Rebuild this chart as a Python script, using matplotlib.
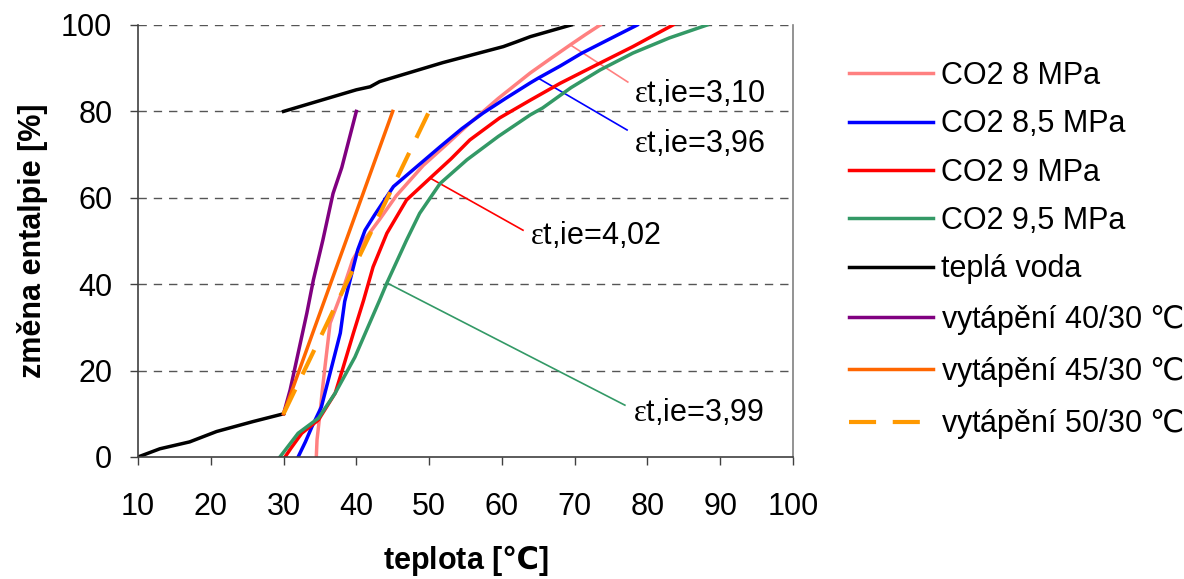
import numpy as np
import matplotlib
matplotlib.use("Agg")
import matplotlib.pyplot as plt

plt.rcParams["font.family"] = ["Liberation Sans", "DejaVu Sans"]
plt.rcParams["mathtext.fontset"] = "custom"
plt.rcParams["mathtext.rm"] = "Liberation Serif"
plt.rcParams["mathtext.sf"] = "Noto Sans CJK SC"
plt.rcParams["mathtext.bf"] = "Noto Sans CJK SC:bold"

DEG = r"$\mathsf{℃}$"
DEG_BOLD = r"$\mathbf{℃}$"

# CO2 cooling curves (temperature [C] vs. enthalpy change [%])
co2_8_t = [34.5, 34.6, 35.0, 35.3, 35.7, 36.4, 37.3, 38.2, 39.5, 41.0, 43.2, 45.5,
           49.2, 52.5, 55.6, 59.5, 63.9, 66.5, 69.4, 71.5, 73.5]
co2_8_h = [0, 4, 10, 15, 21, 31, 35, 39, 45.6, 50, 55, 60.5,
           67.5, 72.5, 77.3, 83, 88.9, 92, 95.4, 97.8, 100]

co2_85_t = [32.0, 33.0, 33.9, 35.2, 36.6, 37.8, 38.4, 39.3, 40.2, 41.2, 42.5, 45.1,
            48.3, 51.5, 54.5, 57.4, 60.5, 63.9, 65.0, 68.0, 71.0, 74.5, 78.6]
co2_85_h = [0, 3.5, 7, 11.6, 20.8, 28.7, 36, 42, 48, 52.5, 56, 62.6,
            67.2, 71.8, 76, 79.6, 83, 86.6, 87.7, 90.5, 93.5, 96.5, 100]

co2_9_t = [30.2, 31.0, 32.5, 34.8, 37.1, 38.2, 39.6, 41.0, 42.3, 44.2, 46.9, 50.1,
           53.0, 55.6, 59.7, 63.9, 68.0, 73.5, 78.0, 83.5]
co2_9_h = [0, 2, 5.5, 8.6, 14.8, 20.8, 28.7, 36.3, 44, 51.8, 59.5, 64.5,
           69, 73.4, 78.5, 82.6, 86.5, 91.2, 95, 100]

co2_95_t = [29.5, 32.0, 34.8, 37.1, 39.8, 41.6, 43.2, 44.2, 46.9, 48.7, 51.5, 55.2,
            59.5, 63.9, 65.6, 69.5, 73.5, 78.0, 83.0, 88.2]
co2_95_h = [0, 5.5, 9, 14.8, 23.1, 30.1, 36.3, 40.3, 50.2, 56.4, 63.3, 68.8,
            74.2, 79.2, 80.8, 85.5, 89.6, 93.5, 97, 100]

# hot water: preheat part, then the heating part (gap between them)
water_t = [10, 13, 17.1, 20.8, 25.8, 30, np.nan,
           30, 35, 40, 41.9, 43.2, 51.9, 60.2, 62, 63.9, 69.5]
water_h = [0, 1.9, 3.5, 5.9, 8.2, 10, np.nan,
           80, 82.5, 85, 85.7, 86.9, 91.3, 95, 96.1, 97.3, 100]

heat_40_t = [30, 30.9, 33.2, 34.1, 35.4, 36.8, 38.0, 40.0]
heat_40_h = [10, 15.5, 33.3, 41, 50.2, 61, 67, 80]

heat_45_t = [30, 37.5, 45]
heat_45_h = [10, 45, 80]

heat_50_t = [30, 50]
heat_50_h = [10, 80]

# exergy efficiency labels: point on curve, end of leader, text anchor
eps_labels = ["3,10", "3,96", "4,02", "3,99"]
eps_colors = ["#FF8080", "#0000FF", "#FF0000", "#339966"]
eps_curve_pts = [(69.4, 95.4), (65.0, 87.7), (50.1, 64.6), (44.2, 40.3)]
eps_leader_ends = [(77.3, 86.8), (77.2, 75.7), (62.9, 52.5), (76.9, 12.0)]
eps_text_pos = [(78.2, 84.2), (78.2, 72.6), (63.8, 51.3), (78.0, 10.2)]

fig = plt.figure(figsize=(11.84, 5.79), dpi=100)
ax = fig.add_axes([138 / 1184, 1 - 457 / 579, (793 - 138) / 1184, (457 - 25) / 579])

lw = 2.5
ax.plot(co2_8_t, co2_8_h, color="#FF8080", lw=lw, label="CO2 8 MPa")
ax.plot(co2_85_t, co2_85_h, color="#0000FF", lw=lw, label="CO2 8,5 MPa")
ax.plot(co2_9_t, co2_9_h, color="#FF0000", lw=lw, label="CO2 9 MPa")
ax.plot(co2_95_t, co2_95_h, color="#339966", lw=lw, label="CO2 9,5 MPa")
ax.plot(water_t, water_h, color="black", lw=lw, label="teplá voda")
ax.plot(heat_40_t, heat_40_h, color="#800080", lw=lw, label="vytápění 40/30 " + DEG)
ax.plot(heat_45_t, heat_45_h, color="#FF6600", lw=lw, label="vytápění 45/30 " + DEG)
ax.plot(heat_50_t, heat_50_h, color="#FF9900", lw=lw + 0.5, ls=(0, (6.5, 4)),
        label="vytápění 50/30 " + DEG)

for lab, col, (x0, y0), (x1, y1), (tx, ty) in zip(eps_labels, eps_colors, eps_curve_pts,
                                                  eps_leader_ends, eps_text_pos):
    ax.plot([x0, x1], [y0, y1], color=col, lw=1.2, zorder=1)
    ax.text(tx, ty, r"$\mathrm{ε}$" + f"t,ie={lab}", fontsize=22, ha="left", va="center")

ax.set_xlim(10, 100)
ax.set_ylim(0, 100)
ax.set_xticks(range(10, 101, 10))
ax.set_yticks(range(0, 101, 20))
ax.tick_params(axis="both", labelsize=22, direction="out", length=6, width=1,
               color="#404040")
ax.tick_params(axis="x", pad=19)
ax.tick_params(axis="y", pad=12.5)

for yv in range(20, 101, 20):
    ax.axhline(yv, color="#555555", lw=1, ls=(0, (6, 5)), zorder=0)

ax.spines["top"].set_visible(False)
ax.spines["right"].set_color("#808080")
ax.spines["left"].set_color("#404040")
ax.spines["bottom"].set_color("#404040")
for s in ax.spines.values():
    s.set_linewidth(1.2)

ax.set_xlabel("teplota [" + DEG_BOLD + "]", fontsize=22, fontweight="bold", labelpad=15)
ax.set_ylabel("změna entalpie [%]", fontsize=22, fontweight="bold", labelpad=9.5)

fig.legend(loc="upper left", bbox_to_anchor=(849 / 1184, 1 - 61 / 579), frameon=False,
           fontsize=22, handlelength=2.75, handletextpad=0.25, labelspacing=0.6,
           borderpad=0, borderaxespad=0)

fig.savefig("out.png", dpi=100)
